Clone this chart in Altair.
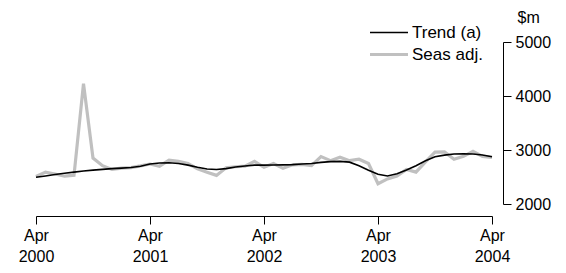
import altair as alt
import pandas as pd

months = pd.date_range("2000-04-01", "2004-04-01", freq="MS").strftime("%Y-%m").tolist()

seas_adj = [2510, 2590, 2555, 2515, 2530, 4230, 2850, 2710, 2640, 2665, 2675, 2705,
            2740, 2700, 2810, 2790, 2750, 2650, 2590, 2530, 2670, 2690, 2700, 2790,
            2680, 2750, 2660, 2725, 2735, 2710, 2877, 2803, 2865, 2803, 2830, 2750,
            2375, 2465, 2520, 2640, 2590, 2780, 2960, 2965, 2827, 2883, 2975, 2883,
            2865]
trend = [2495, 2520, 2545, 2570, 2590, 2610, 2628, 2642, 2655, 2665, 2675, 2700,
         2740, 2760, 2765, 2750, 2720, 2680, 2648, 2640, 2655, 2685, 2705, 2720,
         2720, 2722, 2725, 2730, 2740, 2750, 2770, 2784, 2790, 2775, 2710, 2625,
         2550, 2520, 2560, 2630, 2710, 2800, 2875, 2905, 2925, 2928, 2925, 2907,
         2875]

series_names = ["Trend (a)", "Seas adj."]
x_tick_idx = [0, 12, 24, 36, 48]
x_tick_labels = ["Apr 2000", "Apr 2001", "Apr 2002", "Apr 2003", "Apr 2004"]
y_ticks = [2000, 3000, 4000, 5000]

rows = []
for i, m in enumerate(months):
    rows.append({"idx": i, "month": m, "series": "Trend (a)", "value": trend[i]})
    rows.append({"idx": i, "month": m, "series": "Seas adj.", "value": seas_adj[i]})
df = pd.DataFrame(rows)

label_map = "{" + ",".join(f"'{k}':['{v.split()[0]}','{v.split()[1]}']" for k, v in zip(x_tick_idx, x_tick_labels)) + "}"

FONT = "Liberation Sans"

x_enc = alt.X("idx:Q",
              scale=alt.Scale(domain=[0, 48], nice=False, zero=False),
              axis=alt.Axis(values=x_tick_idx, labelExpr=f"{label_map}[datum.value]",
                            title=None, grid=False, offset=12, tickSize=8,
                            domainColor="black", tickColor="black", labelColor="black",
                            labelFontSize=16, labelFont=FONT, labelPadding=3,
                            labelLineHeight=21, labelFlush=False))
y_enc = alt.Y("value:Q",
              scale=alt.Scale(domain=[2000, 5000], nice=False, zero=False),
              axis=alt.Axis(orient="right", values=y_ticks, format="d", title="$m", titleAngle=0,
                            titleX=14, titleY=-25, titleAlign="left", titleBaseline="middle",
                            titleFontSize=16, titleFontWeight="normal", titleFont=FONT,
                            titleColor="black",
                            grid=False, offset=11, tickSize=8,
                            domainColor="black", tickColor="black", labelColor="black",
                            labelFontSize=16, labelFont=FONT, labelPadding=4))
color_enc = alt.Color("series:N",
                      scale=alt.Scale(domain=series_names, range=["#000000", "#c0c0c0"]),
                      legend=alt.Legend(title=None, orient="none", legendX=351, legendY=-20,
                                        symbolType="M-3,0H1", symbolSize=361,
                                        labelFontSize=17, labelFont=FONT, labelColor="black",
                                        labelOffset=2, rowPadding=2))
sw_enc = alt.StrokeWidth("series:N",
                         scale=alt.Scale(domain=series_names, range=[1.6, 3.2]),
                         legend=None)

base = alt.Chart(df).mark_line().encode(x=x_enc, y=y_enc, color=color_enc, strokeWidth=sw_enc)

seas_layer = base.transform_filter(alt.datum.series == "Seas adj.")
trend_layer = base.transform_filter(alt.datum.series == "Trend (a)")

chart = alt.layer(seas_layer, trend_layer).properties(
    width=456, height=162,
    autosize=alt.AutoSizeParams(type="none"),
    padding={"left": 28, "top": 34, "right": 66, "bottom": 61},
).configure_view(stroke=None)

chart.save("out.html", embed_options={"renderer": "svg", "actions": False})
